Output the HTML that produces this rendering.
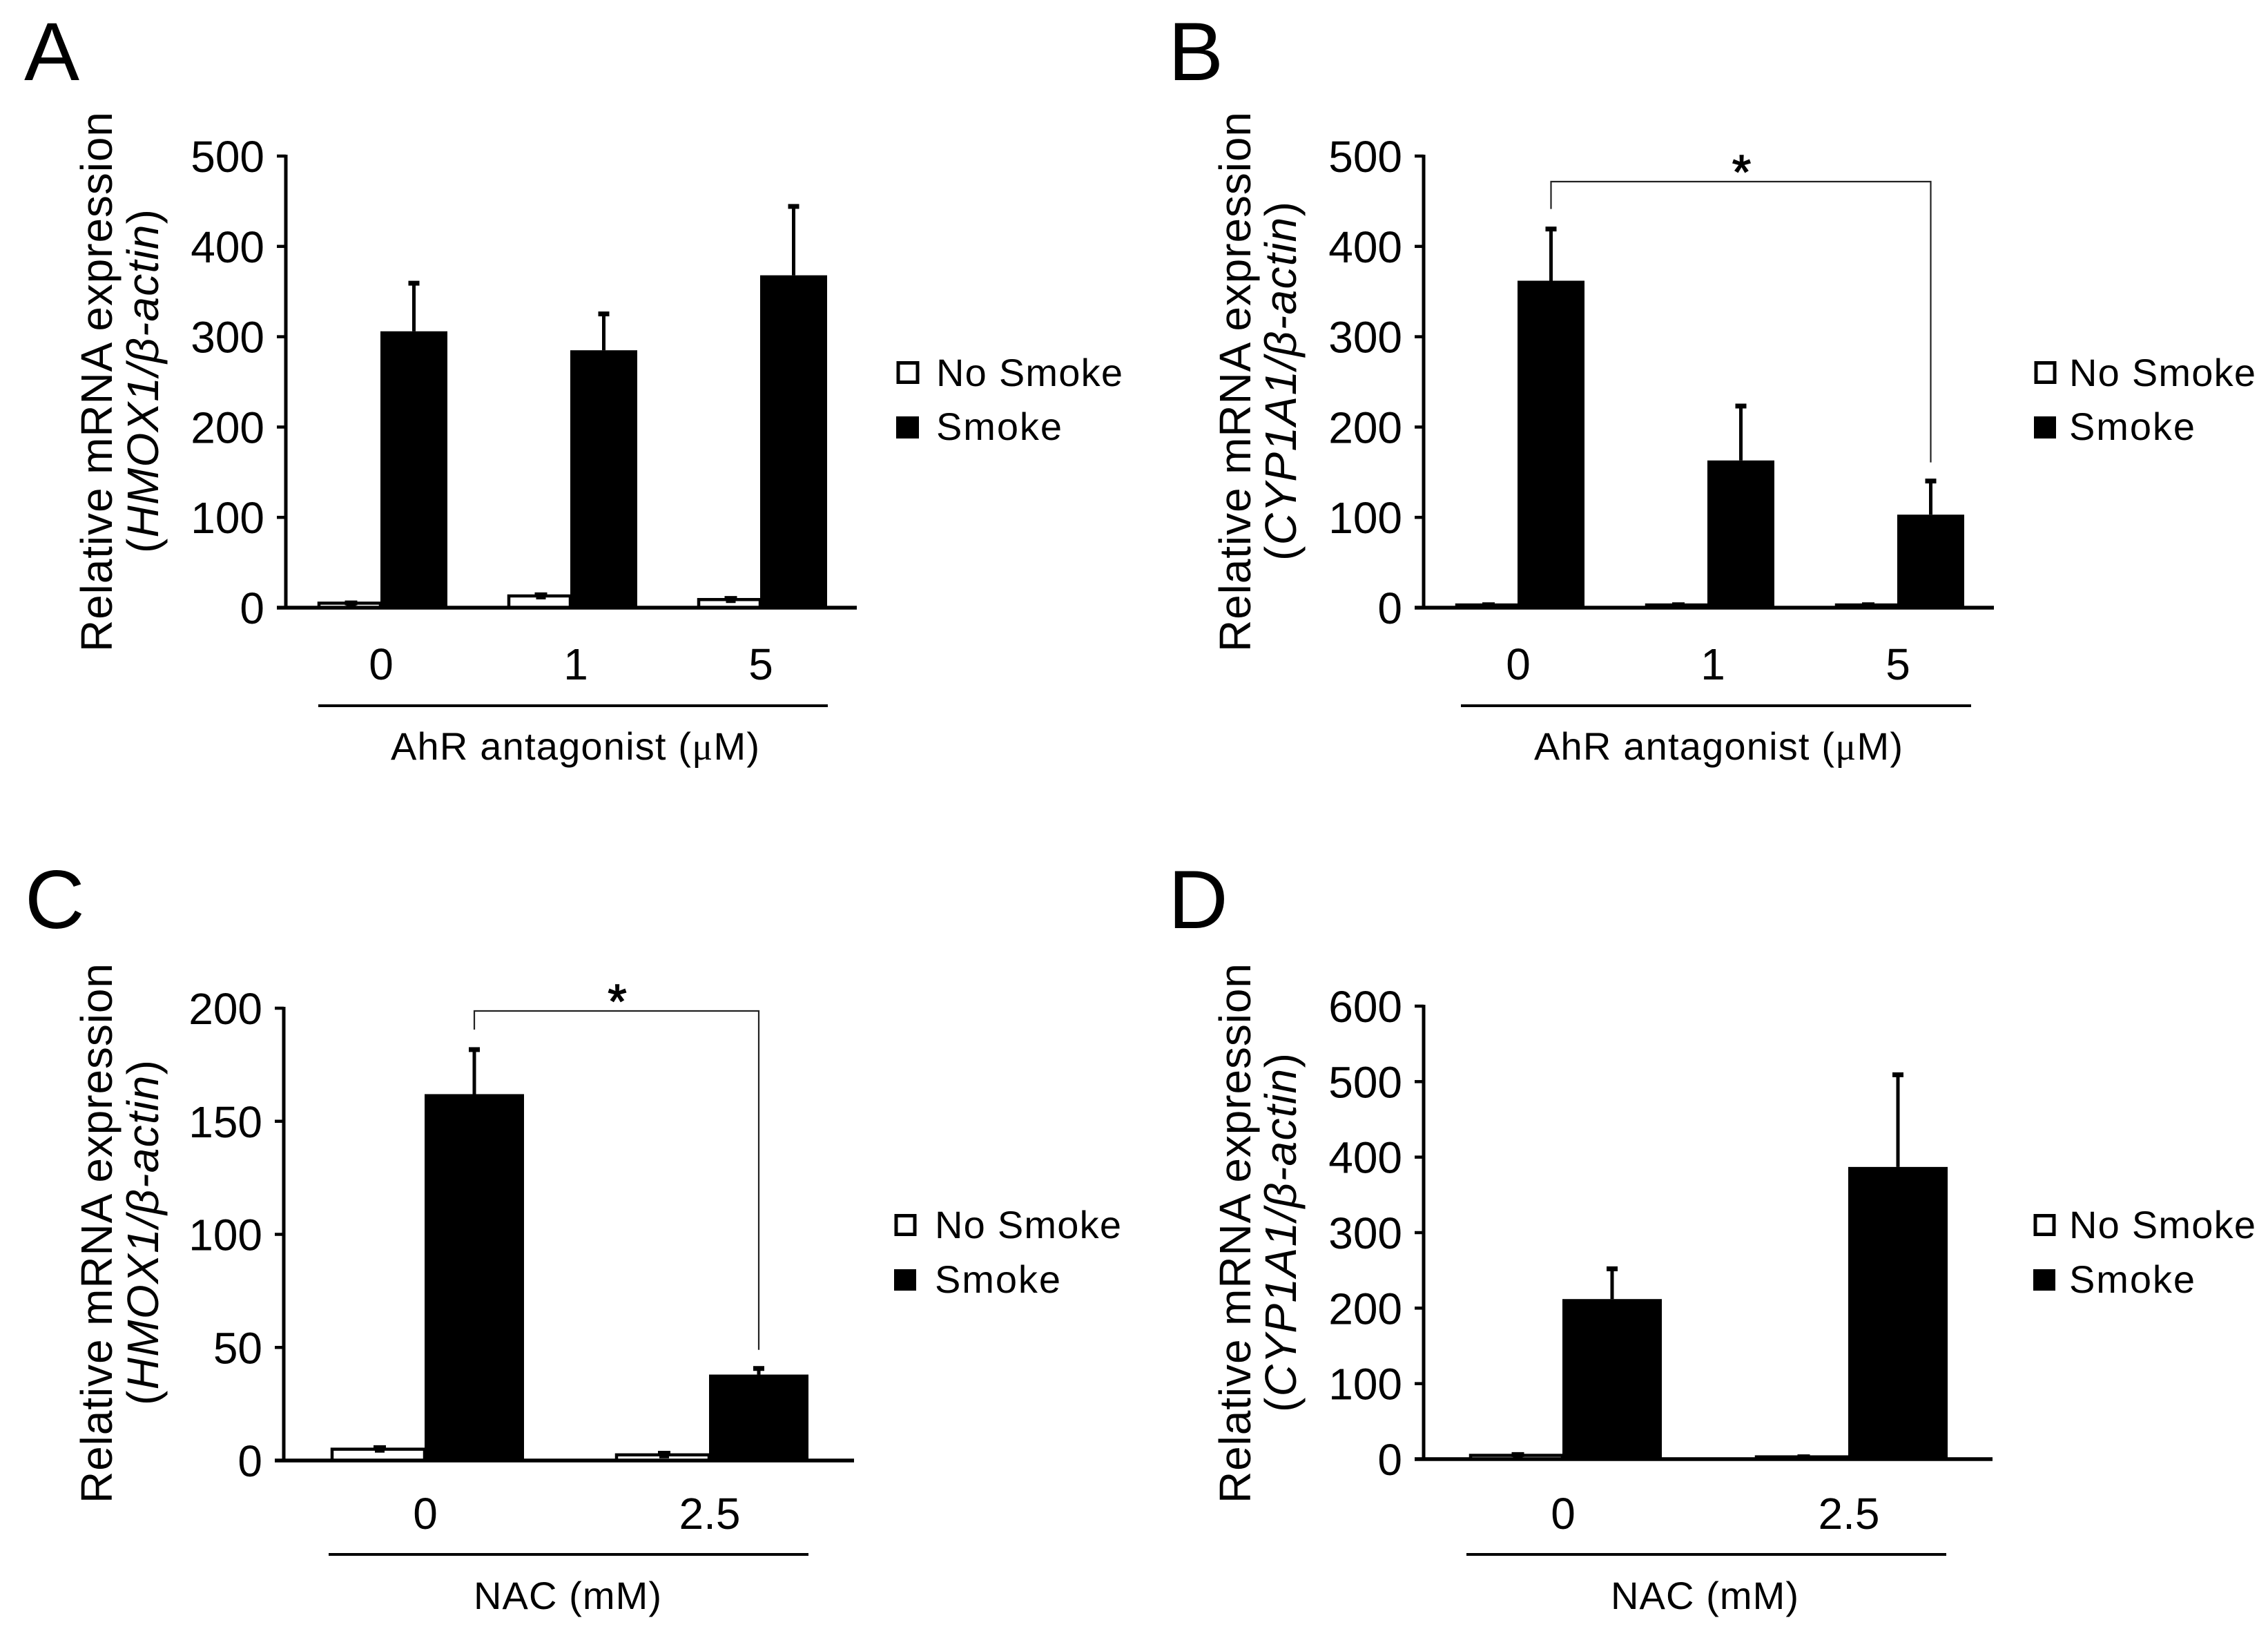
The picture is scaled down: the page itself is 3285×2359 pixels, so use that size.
<!DOCTYPE html>
<html lang="en">
<head>
<meta charset="utf-8">
<title>Relative mRNA expression panels A-D</title>
<style>
html,body{margin:0;padding:0;background:#fff;}
svg{display:block;}
text{font-family:"Liberation Sans",Arial,sans-serif;fill:#000;}
</style>
</head>
<body>
<svg id="figure" xmlns="http://www.w3.org/2000/svg" width="3285" height="2359" viewBox="0 0 3285 2359">
<rect width="3285" height="2359" fill="#fff"/>

<g id="panel-a">
  <text x="35" y="116" font-size="120">A</text>
  <text transform="translate(162,553) rotate(-90)" text-anchor="middle" font-size="64" textLength="782">Relative mRNA expression</text>
  <text transform="translate(229,552) rotate(-90)" text-anchor="middle" font-size="64" textLength="498">(<tspan font-style="italic">HMOX1/β-actin</tspan>)</text>
  <line x1="461" x2="1199" y1="1022" y2="1022" stroke="#000" stroke-width="4"/>
  <text x="833" y="1100" text-anchor="middle" font-size="56" textLength="534">AhR antagonist (<tspan font-family="Liberation Serif">μ</tspan>M)</text>
  <rect x="1301" y="525.5" width="28" height="28" fill="#fff" stroke="#000" stroke-width="5"/>
  <text x="1356" y="559" font-size="56" textLength="270">No Smoke</text>
  <rect x="1298" y="603" width="33" height="32" fill="#000"/>
  <text x="1356" y="637" font-size="56" textLength="182">Smoke</text>
</g>

<g id="panel-b">
  <text x="1692" y="116" font-size="120">B</text>
  <text transform="translate(1811,553) rotate(-90)" text-anchor="middle" font-size="64" textLength="782">Relative mRNA expression</text>
  <text transform="translate(1877,552) rotate(-90)" text-anchor="middle" font-size="64" textLength="520">(<tspan font-style="italic">CYP1A1/β-actin</tspan>)</text>
  <line x1="2116" x2="2855" y1="1022" y2="1022" stroke="#000" stroke-width="4"/>
  <text x="2489" y="1100" text-anchor="middle" font-size="56" textLength="534">AhR antagonist (<tspan font-family="Liberation Serif">μ</tspan>M)</text>
  <rect x="2949" y="525.5" width="27" height="28" fill="#fff" stroke="#000" stroke-width="5"/>
  <text x="2997" y="559" font-size="56" textLength="270">No Smoke</text>
  <rect x="2946" y="603" width="32" height="32" fill="#000"/>
  <text x="2997" y="637" font-size="56" textLength="182">Smoke</text>
</g>

<g id="panel-c">
  <text x="36" y="1344" font-size="120">C</text>
  <text transform="translate(162,1786) rotate(-90)" text-anchor="middle" font-size="64" textLength="782">Relative mRNA expression</text>
  <text transform="translate(229,1785) rotate(-90)" text-anchor="middle" font-size="64" textLength="500">(<tspan font-style="italic">HMOX1/β-actin</tspan>)</text>
  <line x1="476" x2="1171" y1="2251" y2="2251" stroke="#000" stroke-width="4"/>
  <text x="822" y="2330" text-anchor="middle" font-size="56" textLength="272">NAC (mM)</text>
  <rect x="1298" y="1760.5" width="27" height="27" fill="#fff" stroke="#000" stroke-width="5"/>
  <text x="1354" y="1793" font-size="56" textLength="270">No Smoke</text>
  <rect x="1295" y="1838" width="32" height="31" fill="#000"/>
  <text x="1354" y="1872" font-size="56" textLength="182">Smoke</text>
</g>

<g id="panel-d">
  <text x="1692" y="1344" font-size="120">D</text>
  <text transform="translate(1811,1786) rotate(-90)" text-anchor="middle" font-size="64" textLength="782">Relative mRNA expression</text>
  <text transform="translate(1877,1785) rotate(-90)" text-anchor="middle" font-size="64" textLength="520">(<tspan font-style="italic">CYP1A1/β-actin</tspan>)</text>
  <line x1="2124" x2="2819" y1="2251" y2="2251" stroke="#000" stroke-width="4"/>
  <text x="2469" y="2330" text-anchor="middle" font-size="56" textLength="272">NAC (mM)</text>
  <rect x="2948" y="1760.5" width="27" height="27" fill="#fff" stroke="#000" stroke-width="5"/>
  <text x="2997" y="1793" font-size="56" textLength="270">No Smoke</text>
  <rect x="2945" y="1838" width="32" height="31" fill="#000"/>
  <text x="2997" y="1872" font-size="56" textLength="182">Smoke</text>
</g>
</svg>

<script>
// Panel A data
var aCategories = ['0', '1', '5'];
var aNoSmoke = [5, 13, 9];
var aNoSmokeError = [1, 2, 2];
var aSmoke = [306, 285, 368];
var aSmokeError = [54, 41, 77];
var aTicks = [0, 100, 200, 300, 400, 500];

// Panel B data
var bCategories = ['0', '1', '5'];
var bNoSmoke = [3, 3, 3];
var bNoSmokeError = [1, 1, 1];
var bSmoke = [362, 163, 103];
var bSmokeError = [58, 61, 38];
var bTicks = [0, 100, 200, 300, 400, 500];

// Panel C data
var cCategories = ['0', '2.5'];
var cNoSmoke = [5, 2.5];
var cNoSmokeError = [1, 1];
var cSmoke = [162, 38];
var cSmokeError = [20, 3];
var cTicks = [0, 50, 100, 150, 200];

// Panel D data
var dCategories = ['0', '2.5'];
var dNoSmoke = [5, 3];
var dNoSmokeError = [2, 1];
var dSmoke = [212, 387];
var dSmokeError = [41, 123];
var dTicks = [0, 100, 200, 300, 400, 500, 600];

var SVG_NS = 'http://www.w3.org/2000/svg';

function make(parent, tag, props) {
  var node = document.createElementNS(SVG_NS, tag);
  for (var key in props) { node.setAttribute(key, props[key]); }
  parent.appendChild(node);
  return node;
}

function drawErrorBar(parent, cx, yBottom, yTop, stemWidth, capWidth, label) {
  var stem = make(parent, 'line', {x1: cx, x2: cx, y1: yBottom, y2: yTop, stroke: '#000', 'stroke-width': stemWidth});
  
  
  var cap = make(parent, 'line', {x1: cx - capWidth / 2, x2: cx + capWidth / 2, y1: yTop + 1, y2: yTop + 1, stroke: '#000', 'stroke-width': 7});
  
  
}

function drawPanel(cfg) {
  var g = document.getElementById(cfg.id);
  var yScale = function (v) { return cfg.yBase - (v / cfg.yMax) * (cfg.yBase - cfg.yTop); };
  var groupX = function (i) { return cfg.firstBar + i * cfg.groupStep; };

  // No Smoke and Smoke bars
  cfg.categories.forEach(function (cat, i) {
    var x0 = groupX(i);
    var x1 = x0 + cfg.whiteWidth;
    var ns = yScale(cfg.noSmoke[i]);
    var white = make(g, 'rect', {x: x0 + 2, y: ns, width: cfg.whiteWidth - 2, height: Math.max(cfg.yBase - ns, 0), fill: '#fff', stroke: '#000', 'stroke-width': 4.5});
    
    
    var nsCx = x0 + cfg.whiteWidth / 2 + 3;
    var nsTop = yScale(cfg.noSmoke[i] + cfg.noSmokeError[i]);
    drawErrorBar(g, nsCx, ns + 5, nsTop, 14, 18, 'error-no-smoke-' + cat);

    var s = yScale(cfg.smoke[i]);
    var black = make(g, 'rect', {x: x1, y: s, width: cfg.blackWidth, height: cfg.yBase - s, fill: '#000'});
    
    
    var sCx = x1 + cfg.blackWidth / 2;
    var sTop = yScale(cfg.smoke[i] + cfg.smokeError[i]);
    drawErrorBar(g, sCx, s, sTop, 5, 16, 'error-smoke-' + cat);

    // the narrow "1" glyph sits further right in the reference layout
    var labelShift = cat === '1' ? 8 : 1;
    var lab = make(g, 'text', {x: x1 + labelShift, y: cfg.catY, 'text-anchor': 'middle', 'font-size': 64});
    lab.textContent = cat;
    
    
  });

  // Axes
  var yAxis = make(g, 'line', {x1: cfg.axisX, x2: cfg.axisX, y1: cfg.yTop - 2, y2: cfg.yBase, stroke: '#000', 'stroke-width': 5});
  
  
  var xAxis = make(g, 'line', {x1: cfg.axisX - 13, x2: cfg.axisEnd, y1: cfg.yBase, y2: cfg.yBase, stroke: '#000', 'stroke-width': 5.5});
  
  

  cfg.ticks.forEach(function (t) {
    var y = yScale(t);
    var tick = make(g, 'line', {x1: cfg.axisX - 13, x2: cfg.axisX, y1: y, y2: y, stroke: '#000', 'stroke-width': 4.5});
    
    
    var txt = make(g, 'text', {x: cfg.axisX - 31, y: y + 23, 'text-anchor': 'end', 'font-size': 64});
    txt.textContent = String(t);
    
    
  });

  // Significance bracket between the first and last Smoke bars
  if (cfg.bracketY) {
    var last = cfg.categories.length - 1;
    var leftX = groupX(0) + cfg.whiteWidth + cfg.blackWidth / 2;
    var rightX = groupX(last) + cfg.whiteWidth + cfg.blackWidth / 2;
    var leftEnd = yScale(cfg.smoke[0] + cfg.smokeError[0]) - 28;
    var rightEnd = yScale(cfg.smoke[last] + cfg.smokeError[last]) - 26;
    var path = make(g, 'polyline', {points: leftX + ',' + leftEnd + ' ' + leftX + ',' + cfg.bracketY + ' ' + rightX + ',' + cfg.bracketY + ' ' + rightX + ',' + rightEnd, fill: 'none', stroke: '#222', 'stroke-width': 2.2});
    
    
    var star = make(g, 'text', {x: (leftX + rightX) / 2 + 1, y: cfg.bracketY + 10, 'text-anchor': 'middle', 'font-size': 70, stroke: '#000', 'stroke-width': 1.5});
    star.textContent = '*';
    
    
  }
}

drawPanel({id: 'panel-a', categories: aCategories, noSmoke: aNoSmoke, noSmokeError: aNoSmokeError, smoke: aSmoke, smokeError: aSmokeError, ticks: aTicks,
  yMax: 500, yTop: 226, yBase: 880, axisX: 414, axisEnd: 1241, firstBar: 460, groupStep: 275, whiteWidth: 91, blackWidth: 97, catY: 984});
drawPanel({id: 'panel-b', categories: bCategories, noSmoke: bNoSmoke, noSmokeError: bNoSmokeError, smoke: bSmoke, smokeError: bSmokeError, ticks: bTicks,
  yMax: 500, yTop: 226, yBase: 880, axisX: 2062, axisEnd: 2888, firstBar: 2108, groupStep: 275, whiteWidth: 90, blackWidth: 97, catY: 984, bracketY: 263});
drawPanel({id: 'panel-c', categories: cCategories, noSmoke: cNoSmoke, noSmokeError: cNoSmokeError, smoke: cSmoke, smokeError: cSmokeError, ticks: cTicks,
  yMax: 200, yTop: 1460, yBase: 2115, axisX: 411, axisEnd: 1237, firstBar: 479, groupStep: 412, whiteWidth: 136, blackWidth: 144, catY: 2214, bracketY: 1464});
drawPanel({id: 'panel-d', categories: dCategories, noSmoke: dNoSmoke, noSmokeError: dNoSmokeError, smoke: dSmoke, smokeError: dSmokeError, ticks: dTicks,
  yMax: 600, yTop: 1457, yBase: 2113, axisX: 2062, axisEnd: 2886, firstBar: 2128, groupStep: 414, whiteWidth: 135, blackWidth: 144, catY: 2214});
</script>
</body>
</html>
